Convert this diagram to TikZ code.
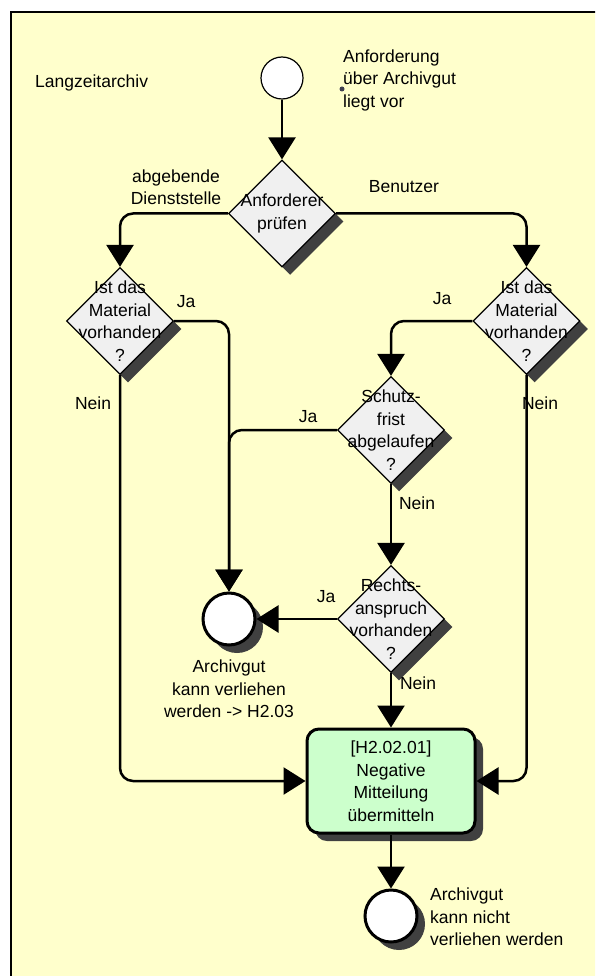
\documentclass[tikz,border=0pt]{standalone}
\usepackage{fontspec}
\setmainfont{Liberation Sans}
\usetikzlibrary{arrows.meta,shapes.geometric,shadows}
\definecolor{lanebg}{HTML}{FFFFCC}
\definecolor{decfill}{HTML}{F0F0F0}
\definecolor{actfill}{HTML}{CCFFCC}
\definecolor{shadegray}{HTML}{404040}
\definecolor{dotgray}{HTML}{404050}

\begin{document}
\begin{tikzpicture}[x=1pt,y=-1pt,
  every node/.style={font=\fontsize{17.5}{22.5}\selectfont},
  txt/.style={align=center, inner sep=0pt},
  ltxt/.style={align=left, inner sep=0pt, anchor=west},
  darkshadow/.style={drop shadow={shadow xshift=8pt, shadow yshift=-8pt, opacity=1, fill=shadegray}},
  decision/.style={diamond, draw, line width=1.2pt, fill=decfill,
    minimum width=107pt, minimum height=107pt, inner sep=0pt, darkshadow,
    label={[txt]center:#1}},
  startev/.style={circle, draw, line width=1.2pt, fill=white, minimum size=42pt, inner sep=0pt},
  endev/.style={circle, draw, line width=3pt, fill=white, minimum size=52pt, inner sep=0pt, darkshadow},
  activity/.style={rectangle, rounded corners=12pt, draw, line width=3pt, fill=actfill,
    minimum width=168pt, minimum height=104pt, align=center, inner sep=0pt, darkshadow},
  flow/.style={line width=2.5pt, -{Triangle[length=22pt,width=27pt]}},
  elbow/.style={rounded corners=13pt}
]
\useasboundingbox (0,0) rectangle (595,976);
\clip (0,0) rectangle (595,976);

% swimlane
\fill[lanebg] (11,12) rectangle (620,1000);
\draw[line width=2pt] (11,1000) -- (11,12) -- (620,12);
\node[ltxt] (lane) at (35,83) {Langzeitarchiv};

% events
\node[startev] (start) at (282,78) {};
\node[circle, fill=dotgray, minimum size=5pt, inner sep=0pt] (pin) at (342,89) {};
\node[ltxt] (startlbl) at (343,80) {Anforderung\\über Archivgut\\liegt vor};

% decisions
\node[decision={Anforderer\\prüfen}] (d1) at (282,213.5) {};
\node[decision={Ist das\\Material\\vorhanden\\?}] (dA) at (120,321) {};
\node[decision={Ist das\\Material\\vorhanden\\?}] (dB) at (526.5,321) {};
\node[decision={Schutz-\\frist\\abgelaufen\\?}] (dS) at (391,430) {};
\node[decision={Rechts-\\anspruch\\vorhanden\\?}] (dR) at (391,619) {};

% results
\node[endev] (ok) at (229,619) {};
\node[txt] (oklbl) at (229,689) {Archivgut\\kann verliehen\\werden -> H2.03};
\node[activity] (neg) at (391,781) {[H2.02.01]\\Negative\\Mitteilung\\übermitteln};
\node[endev] (no) at (391,916) {};
\node[ltxt] (nolbl) at (430,917) {Archivgut\\kann nicht\\verliehen werden};

% connectors
\draw[flow] (start) -- (d1);
\draw[flow,elbow] (d1.west) -| (dA.north);
\draw[flow,elbow] (d1.east) -| (dB.north);
\draw[flow,elbow] (dA.east) -| (ok.north);
\draw[flow,elbow] (dS.west) -| (ok.north);
\draw[flow,elbow] (dB.west) -| (dS.north);
\draw[flow] (dS.south) -- (dR.north);
\draw[flow] (dR.west) -- (ok.east);
\draw[flow] (dR.south) -- (neg.north);
\draw[flow,elbow] (dA.south) |- (neg.west);
\draw[flow,elbow] (dB.south) |- (neg.east);
\draw[flow] (neg.south) -- (no.north);

% branch labels
\node[txt] (lAbg) at (176,187) {abgebende\\Dienststelle};
\node[txt] (lBen) at (404,187) {Benutzer};
\node[txt] (lJaA) at (186,302) {Ja};
\node[txt] (lNeinA) at (93,403) {Nein};
\node[txt] (lJaB) at (442,299) {Ja};
\node[txt] (lNeinB) at (540,403) {Nein};
\node[txt] (lJaS) at (308,417) {Ja};
\node[txt] (lNeinS) at (417,503) {Nein};
\node[txt] (lJaR) at (326,597) {Ja};
\node[txt] (lNeinR) at (418,683) {Nein};
\end{tikzpicture}
\end{document}
